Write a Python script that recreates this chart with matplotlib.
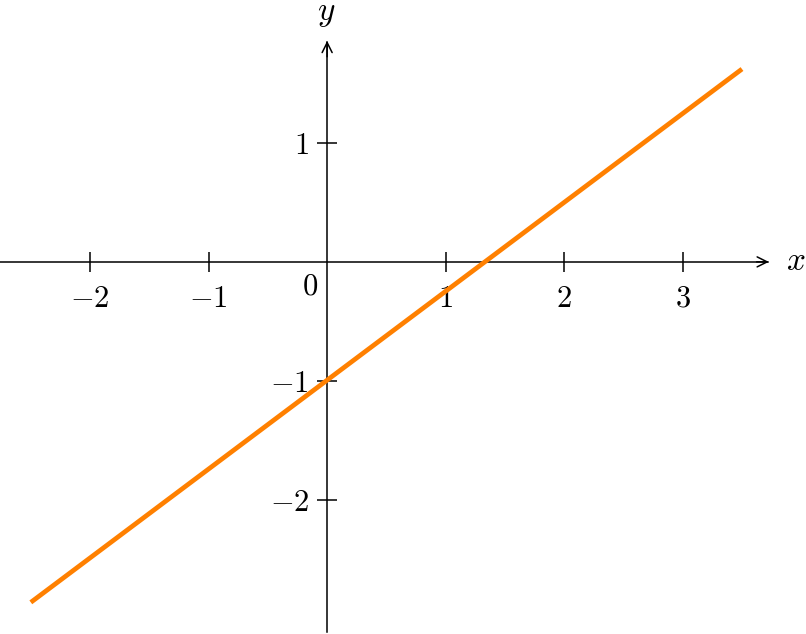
import matplotlib.pyplot as plt
import numpy as np

plt.rcParams['mathtext.fontset'] = 'cm'
plt.rcParams['font.family'] = 'serif'
plt.rcParams['font.serif'] = ['cmr10']
plt.rcParams['axes.formatter.use_mathtext'] = True

# line endpoints
x = [-2.5, 3.5]
y = [-2.86, 1.62]
xticks = [-2, -1, 1, 2, 3]
yticks = [-2, -1, 1]

fig = plt.figure(figsize=(8.06, 6.34), dpi=100)
ax = fig.add_axes([0, 0, 1, 1])
ax.set_xlim(-2.76, 4.04)
ax.set_ylim(-3.126, 2.20)

for s in ['top', 'right']:
    ax.spines[s].set_visible(False)
ax.spines['left'].set_position(('data', 0))
ax.spines['bottom'].set_position(('data', 0))
ax.spines['bottom'].set_bounds(-2.76, 3.72)
ax.spines['left'].set_bounds(-3.11, 1.85)
for s in ['left', 'bottom']:
    ax.spines[s].set_linewidth(1.1)

ax.set_xticks(xticks)
ax.set_yticks(yticks)
ax.set_xticklabels([r'$%d$' % t for t in xticks])
ax.set_yticklabels([r'$%d$' % t for t in yticks])
ax.tick_params(axis='x', direction='inout', length=14, width=1.1, labelsize=22, pad=10)
ax.tick_params(axis='y', direction='inout', length=14, width=1.1, labelsize=22, pad=6)

# arrow heads
ax.annotate('', xy=(3.75, 0), xytext=(3.6, 0),
            arrowprops=dict(arrowstyle='->', lw=1.1, color='black', mutation_scale=18))
ax.annotate('', xy=(0, 1.88), xytext=(0, 1.7),
            arrowprops=dict(arrowstyle='->', lw=1.1, color='black', mutation_scale=18))

ax.text(3.87, 0, r'$x$', fontsize=24, va='center', ha='left')
ax.text(-0.01, 2.08, r'$y$', fontsize=24, va='center', ha='center')
ax.text(-0.08, -0.09, r'$0$', fontsize=22, va='top', ha='right')

ax.plot(x, y, color='#ff8000', lw=3.4, zorder=5, solid_capstyle='butt')
ax.patch.set_visible(False)

fig.savefig('out.png', dpi=100)
